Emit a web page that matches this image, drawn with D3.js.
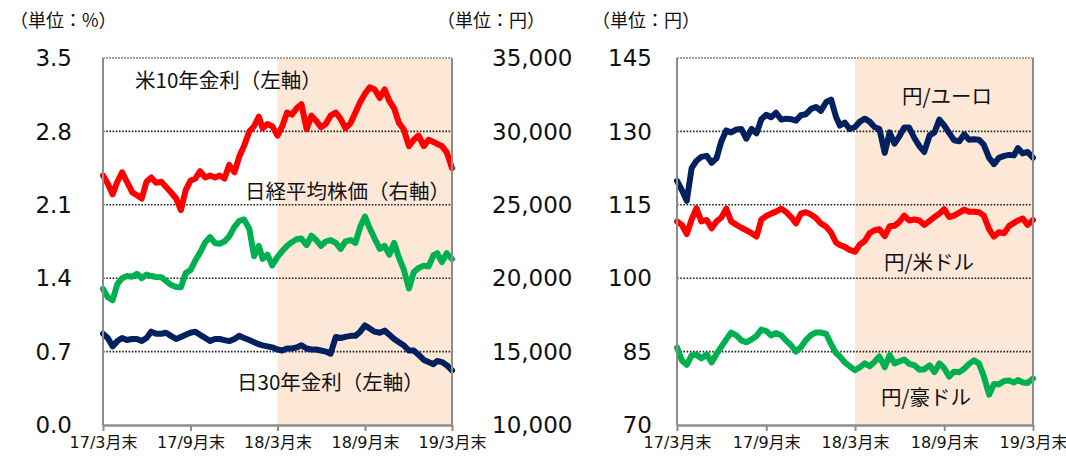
<!DOCTYPE html>
<html>
<head>
<meta charset="UTF-8">
<title>金利・株価・為替</title>
<script src="https://cdn.jsdelivr.net/npm/d3@7/dist/d3.min.js"></script>
<style>
  body{margin:0;background:#fff;}
  svg{display:block;}
  text{font-family:"DejaVu Sans","Noto Sans CJK JP",sans-serif;fill:#111;}
  .jp{font-family:"Noto Sans CJK JP","DejaVu Sans",sans-serif;}
</style>
</head>
<body>
<script>
// 日付（約10日おき）
var dates = [
  "2017-03-31",
  "2017-04-10","2017-04-20","2017-04-30","2017-05-10","2017-05-20","2017-05-31",
  "2017-06-10","2017-06-20","2017-06-30","2017-07-10","2017-07-20","2017-07-31",
  "2017-08-10","2017-08-20","2017-08-31","2017-09-10","2017-09-20","2017-09-30",
  "2017-10-10","2017-10-20","2017-10-31","2017-11-10","2017-11-20","2017-11-30",
  "2017-12-10","2017-12-20","2017-12-31","2018-01-10","2018-01-20","2018-01-31",
  "2018-02-10","2018-02-20","2018-02-28","2018-03-10","2018-03-20","2018-03-31",
  "2018-04-10","2018-04-20","2018-04-30","2018-05-10","2018-05-20","2018-05-31",
  "2018-06-10","2018-06-20","2018-06-30","2018-07-10","2018-07-20","2018-07-31",
  "2018-08-10","2018-08-20","2018-08-31","2018-09-10","2018-09-20","2018-09-30",
  "2018-10-10","2018-10-20","2018-10-31","2018-11-10","2018-11-20","2018-11-30",
  "2018-12-10","2018-12-20","2018-12-31","2019-01-10","2019-01-20","2019-01-31",
  "2019-02-10","2019-02-20","2019-02-28","2019-03-10","2019-03-20","2019-03-31"
];

// 米10年金利（%）
var us10y = [2.38,
  2.30,2.20,2.32, 2.41,2.32,2.22, 2.19,2.16,2.32, 2.36,2.31,2.32,
  2.27,2.22,2.16, 2.05,2.24,2.33, 2.35,2.42,2.36, 2.38,2.36,2.38,
  2.35,2.48,2.41, 2.56,2.66,2.80, 2.85,2.94,2.83, 2.87,2.85,2.76,
  2.85,2.98,2.96, 3.02,3.06,2.82, 2.95,2.90,2.84, 2.87,2.95,2.98,
  2.92,2.83,2.88, 2.98,3.08,3.16, 3.22,3.20,3.12, 3.20,3.09,3.02,
  2.88,2.82,2.66, 2.72,2.76,2.66, 2.72,2.70,2.68, 2.66,2.60,2.45];

// 日経平均株価（円）
var nikkei = [19270,
  18700,18500,19600, 20000,20150,20100, 20300,20000,20250, 20150,20080,20070,
  19800,19550,19400, 19380,20350,20550, 21200,21750,22450, 22800,22400,22350,
  22500,22850,23500, 23900,24000,23370, 21500,22200,21320, 21600,20870,21450,
  21850,22200,22450, 22650,22700,22250, 22900,22600,22200, 22500,22600,22400,
  22000,22500,22600, 22400,23500,24200, 23400,22700,22000, 22200,21600,22400,
  21400,20600,19300, 20400,20700,20850, 20800,21550,21700, 21100,21700,21300];

// 日30年金利（%）
var jgb30y = [0.87,
  0.83,0.75,0.80, 0.83,0.81,0.82, 0.82,0.80,0.83, 0.89,0.87,0.87,
  0.88,0.85,0.82, 0.84,0.86,0.88, 0.89,0.86,0.83, 0.80,0.82,0.82,
  0.81,0.80,0.82, 0.85,0.83,0.81, 0.79,0.77,0.76, 0.75,0.74,0.72,
  0.71,0.73,0.73, 0.74,0.76,0.73, 0.72,0.72,0.71, 0.70,0.68,0.84,
  0.83,0.84,0.85, 0.85,0.89,0.95, 0.92,0.89,0.88, 0.90,0.86,0.82,
  0.79,0.76,0.71, 0.71,0.67,0.62, 0.60,0.58,0.61, 0.60,0.57,0.52];

// 円/ユーロ
var jpyEur = [119.9,
  118.0,115.8,122.5, 124.0,124.8,125.0, 123.6,124.5,128.0, 130.2,129.8,130.4,
  130.5,128.5,130.5, 129.6,132.5,133.4, 132.9,133.8,132.4, 132.6,132.5,132.2,
  133.3,133.5,134.6, 135.0,134.2,136.0, 136.5,133.0,131.2, 131.8,130.5,130.9,
  132.0,132.6,132.0, 130.9,130.5,125.6, 129.8,127.5,129.0, 130.8,130.8,128.6,
  127.0,125.8,129.2, 129.8,132.4,131.2, 129.7,128.2,128.0, 129.4,128.3,128.4,
  128.3,127.3,124.6, 123.3,124.6,125.0, 125.2,125.1,126.6, 125.5,125.8,124.6];

// 円/米ドル
var jpyUsd = [111.6,
  110.9,109.0,112.0, 114.3,111.6,111.9, 110.2,111.6,112.4, 114.2,111.6,110.9,
  110.3,109.8,109.2, 108.5,112.0,112.7, 113.2,113.6,114.2, 113.5,112.5,111.2,
  113.2,113.5,113.0, 112.3,111.2,110.5, 109.3,107.3,106.8, 106.4,105.8,105.4,
  106.9,107.6,109.2, 109.8,110.0,108.6, 110.6,110.7,111.5, 112.8,111.8,112.0,
  111.8,110.9,111.7, 112.5,113.2,114.1, 112.5,112.8,113.4, 114.0,113.6,113.6,
  113.5,112.8,110.0, 108.5,109.4,109.2, 110.7,111.3,111.8, 112.2,110.9,111.9];

// 円/豪ドル
var jpyAud = [85.8,
  83.2,82.3,84.2, 84.4,83.6,84.4, 82.8,84.5,86.0, 87.5,88.9,88.3,
  87.3,86.9,87.5, 88.2,89.5,89.2, 88.3,88.8,88.3, 87.2,86.3,85.0,
  85.9,87.3,88.4, 88.9,88.9,88.6, 86.5,84.7,84.0, 82.8,82.0,81.2,
  81.8,82.6,82.0, 82.9,84.0,81.8, 84.3,82.6,83.0, 83.4,82.5,82.2,
  81.3,81.4,82.2, 80.8,82.6,81.6, 79.9,80.9,80.8, 81.5,82.5,83.2,
  82.6,80.0,76.2, 78.4,78.3,79.0, 79.1,78.7,79.2, 78.7,78.6,79.5];

// 目盛
var tickDates = ["2017-03-31","2017-09-30","2018-03-31","2018-09-30","2019-03-31"];
var tickLabels = ["17/3月末","17/9月末","18/3月末","18/9月末","19/3月末"];
var rateTicks = [0.0,0.7,1.4,2.1,2.8,3.5];
var stockTicks = [10000,15000,20000,25000,30000,35000];
var fxTicks = [70,85,100,115,130,145];
var shadeStart = "2018-03-31";

var parse = d3.timeParse("%Y-%m-%d");
var w = 1066, h = 458;
var plotTop = 58, plotBottom = 425;

var svg = d3.select("body").append("svg")
  .attr("width", w)
  .attr("height", h);

function panel(left, right) {
  var x = d3.scaleTime()
    .domain([parse(tickDates[0]), parse(tickDates[tickDates.length - 1])])
    .range([left, right]);
  var g = svg.append("g");

  // 網掛け（18/3月末以降）
  g.append("rect")
    .attr("x", x(parse(shadeStart)))
    .attr("y", plotTop)
    .attr("width", right - x(parse(shadeStart)))
    .attr("height", plotBottom - plotTop)
    .attr("fill", "#fde7d7");
  return {x: x, g: g, left: left, right: right};
}

function grid(p, y, ticks) {
  p.g.append("g").selectAll("line")
    .data(ticks.slice(1, ticks.length - 1))
    .enter().append("line")
    .attr("x1", p.left).attr("x2", p.right)
    .attr("y1", function(d){ return y(d); })
    .attr("y2", function(d){ return y(d); })
    .attr("stroke", "#222")
    .attr("stroke-width", 1.6)
    .attr("stroke-dasharray", "1.6,1.6");
}

function frame(p) {
  var g = p.g;
  g.append("line").attr("x1", p.left).attr("x2", p.right)
    .attr("y1", plotTop).attr("y2", plotTop)
    .attr("stroke", "#a0a0a0").attr("stroke-width", 2).attr("stroke-dasharray", "2,1");
  g.append("line").attr("x1", p.right).attr("x2", p.right)
    .attr("y1", plotTop).attr("y2", plotBottom)
    .attr("stroke", "#8c8c8c").attr("stroke-width", 2);
  g.append("line").attr("x1", p.left).attr("x2", p.left)
    .attr("y1", plotTop).attr("y2", plotBottom)
    .attr("stroke", "#8c8c8c").attr("stroke-width", 2);

  var xAxis = d3.axisBottom(p.x)
    .tickValues(tickDates.map(parse))
    .tickSizeInner(6)
    .tickSizeOuter(0)
    .tickPadding(6)
    .tickFormat(function(d, i){ return tickLabels[i]; });
  var ax = g.append("g")
    .attr("transform", "translate(0," + plotBottom + ")")
    .call(xAxis);
  ax.select(".domain").attr("stroke", "#8c8c8c").attr("stroke-width", 2.5);
  ax.selectAll(".tick line").attr("stroke", "#8c8c8c").attr("stroke-width", 2);
  ax.selectAll(".tick text")
    .attr("font-size", "16px")
    .attr("fill", "#111")
    .attr("font-family", "DejaVu Sans, Noto Sans CJK JP, sans-serif");
}

function series(p, y, values, color) {
  var line = d3.line()
    .x(function(d, i){ return p.x(parse(dates[i])); })
    .y(function(d){ return y(d); });
  p.g.append("path")
    .datum(values)
    .attr("d", line)
    .attr("fill", "none")
    .attr("stroke", color)
    .attr("stroke-width", 6)
    .attr("stroke-linejoin", "round")
    .attr("stroke-linecap", "round");
}

function yLabels(y, ticks, xpos, anchor, fmt) {
  svg.append("g").selectAll("text")
    .data(ticks)
    .enter().append("text")
    .attr("x", xpos)
    .attr("y", function(d){ return y(d); })
    .attr("dy", "0.36em")
    .attr("text-anchor", anchor)
    .attr("font-size", "23px")
    .text(fmt);
}

function note(x, y, txt, anchor, size) {
  svg.append("text")
    .attr("class", "jp")
    .attr("x", x).attr("y", y)
    .attr("dy", "0.36em")
    .attr("text-anchor", anchor || "start")
    .attr("font-size", size || "20.5px")
    .text(txt);
}

// ---- 左：金利・株価 ----
var pL = panel(103, 452);
var yRate = d3.scaleLinear().domain([0, 3.5]).range([plotBottom, plotTop]);
var yStock = d3.scaleLinear().domain([10000, 35000]).range([plotBottom, plotTop]);
grid(pL, yRate, rateTicks);
series(pL, yStock, nikkei, "#00b050");
series(pL, yRate, us10y, "#ff0000");
series(pL, yRate, jgb30y, "#002060");
frame(pL);
yLabels(yRate, rateTicks, 72, "end", d3.format(".1f"));
yLabels(yStock, stockTicks, 492, "start", d3.format(","));

// ---- 右：為替 ----
var pR = panel(677, 1033);
var yFx = d3.scaleLinear().domain([70, 145]).range([plotBottom, plotTop]);
grid(pR, yFx, fxTicks);
series(pR, yFx, jpyAud, "#00b050");
series(pR, yFx, jpyUsd, "#ff0000");
series(pR, yFx, jpyEur, "#002060");
frame(pR);
yLabels(yFx, fxTicks, 652, "end", d3.format("d"));

// 単位
note(10, 21, "（単位：%）", "start", "18px");
note(437, 21, "（単位：円）", "start", "18px");
note(592, 21, "（単位：円）", "start", "18px");

// 系列名
note(135, 81, "米10年金利（左軸）");
note(450, 192, "日経平均株価（右軸）", "end");
note(237, 383, "日30年金利（左軸）");
note(902, 97, "円/ユーロ");
note(884, 263, "円/米ドル");
note(881, 398, "円/豪ドル");
</script>
</body>
</html>
